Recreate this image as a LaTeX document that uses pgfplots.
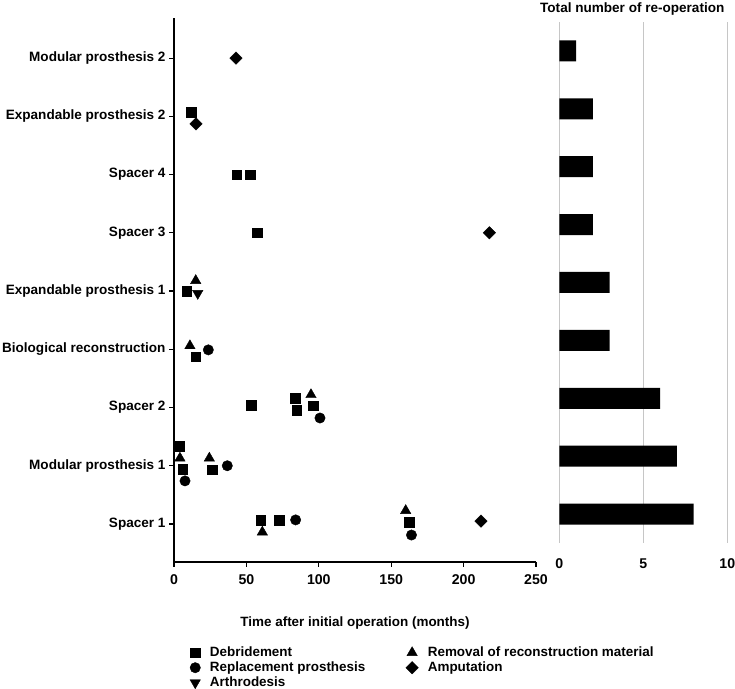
\documentclass[border=0pt]{standalone}
\usepackage{fontspec}
\setmainfont{Liberation Sans}
\usepackage{pgfplots}
\pgfplotsset{compat=1.18}
\begin{document}
\begin{tikzpicture}[x=1bp,y=1bp]
\useasboundingbox (0,0) rectangle (735,689);
\pgfplotsset{every axis/.append style={
  font=\bfseries\fontsize{13.5}{16}\selectfont,
  /pgf/number format/assume math mode=true,
  xticklabel style={font=\bfseries\fontsize{14.2}{16}\selectfont},
  yticklabel style={font=\bfseries\fontsize{13.6}{16}\selectfont},
}}
% Left scatter axis
\begin{axis}[
  at={(174bp,127bp)}, anchor=south west,
  scale only axis, width=362bp, height=544bp,
  xmin=0, xmax=250, ymin=0.347, ymax=9.69,
  axis x line*=bottom, axis y line*=left,
  axis line style={line width=1.4pt, black},
  tick style={line width=1.2pt, black},
  tick align=outside, major tick length=5bp,
  xtick={0,50,100,150,200,250},
  ytick={1,2,3,4,5,6,7,8,9},
  yticklabels={Spacer 1,Modular prosthesis 1,Spacer 2,Biological reconstruction,Expandable prosthesis 1,Spacer 3,Spacer 4,Expandable prosthesis 2,Modular prosthesis 2},
  xticklabel style={yshift=-4bp},
  xlabel={Time after initial operation (months)},
  xlabel style={yshift=-25bp},
  clip=false,
  legend columns=2,
  legend style={at={(0.041,-0.1505)}, anchor=north west, draw=none, fill=none,
    font=\bfseries\fontsize{13.5}{15.5}\selectfont,
    inner sep=1bp,
    row sep=-0.2bp,
    /tikz/every odd column/.append style={column sep=7.5bp},
    /tikz/every even column/.append style={column sep=38.5bp}},
  legend cell align=left,
]
% Debridement
\addplot[only marks, mark=square*, mark size=4.8bp, black] coordinates {
 (60,1.07) (72.5,1.07) (162.3,1.03)
 (3.7,2.34) (6,1.94) (26.5,1.93)
 (53.2,3.04) (83.6,3.16) (84.7,2.95) (96.2,3.03)
 (15,3.87)
 (8.7,5.0)
 (57.5,6.0)
 (43.3,7.0) (52.5,7.0)
 (11.7,8.07)
};
\addlegendentry{Debridement}
% Removal of reconstruction material
\addplot[only marks, mark=triangle*, mark size=6bp, black] coordinates {
 (61,0.86) (160,1.23)
 (4.1,2.13) (24.4,2.13)
 (94.6,3.22)
 (11,4.06)
 (15,5.18)
};
\addlegendentry{Removal of reconstruction material}
% Replacement prosthesis
\addplot[only marks, mark=*, mark size=5.2bp, black] coordinates {
 (84,1.07) (164,0.81)
 (7.6,1.74) (36.8,2.0)
 (100.8,2.82)
 (23.7,3.99)
};
\addlegendentry{Replacement prosthesis}
% Amputation
\addplot[only marks, mark=square*, mark options={rotate=45}, mark size=4.4bp, black] coordinates {
 (212,1.05)
 (217.8,6.0)
 (15.2,7.87)
 (42.8,9.0)
};
\addlegendentry{Amputation}
% Arthrodesis
\addplot[only marks, mark=triangle*, mark options={rotate=180}, mark size=6bp, black] coordinates {
 (16.4,4.96)
};
\addlegendentry{Arthrodesis}
\end{axis}
% Right bar axis
\begin{axis}[
  at={(559.3bp,146bp)}, anchor=south west,
  scale only axis, width=168bp, height=521bp,
  xmin=0, xmax=10, ymin=0.5, ymax=9.5,
  xbar, bar width=21bp,
  axis line style={draw=none},
  xmajorgrids, grid style={gray!45, line width=0.8pt},
  xtick={0,5,10}, ytick=\empty,
  major tick length=0pt,
  xticklabel style={yshift=-12bp},
  title={Total number of re-operation},
  title style={font=\bfseries\fontsize{13.6}{16}\selectfont, at={(-0.115,1)}, anchor=south west, yshift=-3bp, inner xsep=0pt},
  clip=false,
]
\addplot[fill=black, draw=none] coordinates {
 (8,1) (7,2) (6,3) (3,4) (3,5) (2,6) (2,7) (2,8) (1,9)
};
\end{axis}
\end{tikzpicture}
\end{document}
